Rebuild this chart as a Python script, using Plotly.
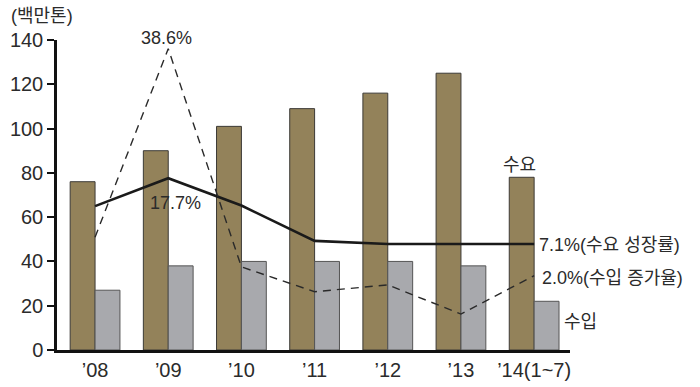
import plotly.graph_objects as go

categories = ["’08", "’09", "’10", "’11", "’12", "’13", "’14(1~7)"]
demand = [76, 90, 101, 109, 116, 125, 78]          # 수요 (백만톤)
imports = [27, 38, 40, 40, 40, 38, 22]             # 수입 (백만톤)
demand_growth = [13.2, 17.7, 13.3, 7.6, 7.1, 7.1, 7.1]   # 수요 성장률 (%)
import_growth = [8.2, 38.6, 3.4, -0.6, 0.5, -4.2, 2.0]   # 수입 증가율 (%)

FONT = "Liberation Sans, Arial, Noto Sans CJK KR, sans-serif"
TXT = "#2b2b2b"

fig = go.Figure()
fig.add_trace(go.Bar(x=categories, y=demand, name="수요",
                     marker=dict(color="#93825A", line=dict(color="#3c3a36", width=1))))
fig.add_trace(go.Bar(x=categories, y=imports, name="수입",
                     marker=dict(color="#A8A9AD", line=dict(color="#555555", width=1))))
fig.add_trace(go.Scatter(x=categories, y=demand_growth, mode="lines", yaxis="y2",
                         line=dict(color="#1a1a1a", width=2.6)))
fig.add_trace(go.Scatter(x=categories, y=import_growth, mode="lines", yaxis="y2",
                         line=dict(color="#2a2a2a", width=1.4, dash="8px,6px")))

fig.update_layout(
    width=700, height=387,
    margin=dict(l=57, r=130, t=40, b=37, autoexpand=False),
    plot_bgcolor="white", paper_bgcolor="white",
    showlegend=False,
    barmode="group", bargap=0.32, bargroupgap=0,
    font=dict(family=FONT, color=TXT, size=20),
    xaxis=dict(range=[-0.52, 6.49], showline=True, linecolor="#111", linewidth=2.5,
               ticks="", tickfont=dict(size=20, color=TXT), showgrid=False, zeroline=False,
               automargin=False),
    yaxis=dict(range=[0, 140], dtick=20, showline=True, linecolor="#111", linewidth=2.5,
               ticks="outside", ticklen=7, tickwidth=2, tickcolor="#111",
               tickfont=dict(size=20, color=TXT), showgrid=False, zeroline=False,
               automargin=False),
    yaxis2=dict(range=[-10, 40], overlaying="y", visible=False, automargin=False),
)

ann = [
    dict(text="(백만톤)", x=9, y=16, xanchor="left", size=18),
    dict(text="38.6%", x=166, y=38, xanchor="center", size=18),
    dict(text="17.7%", x=175, y=203, xanchor="center", size=18),
    dict(text="수요", x=519, y=165, xanchor="center", size=18),
    dict(text="7.1%(수요 성장률)", x=537, y=245, xanchor="left", size=18),
    dict(text="2.0%(수입 증가율)", x=540, y=278, xanchor="left", size=18),
    dict(text="수입", x=562, y=322, xanchor="left", size=18),
]
for a in ann:
    fig.add_annotation(text=a["text"], xref="paper", yref="paper",
                       x=(a["x"] - 57) / (700 - 57 - 130),
                       y=1 - (a["y"] - 40) / (387 - 40 - 37),
                       xanchor=a["xanchor"], yanchor="middle", showarrow=False,
                       font=dict(size=a["size"], color=TXT, family=FONT))

fig.write_html("out.html", config={"displayModeBar": False},
               post_script="document.body.style.margin='0';document.body.style.overflow='hidden';")
